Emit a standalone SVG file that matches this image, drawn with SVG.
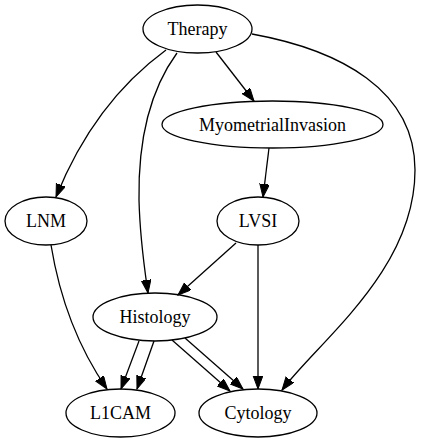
<svg xmlns="http://www.w3.org/2000/svg" width="421" height="443" viewBox="0 0 421 443">
<style>
ellipse{fill:none;stroke:#000;stroke-width:1.3}
text{font-family:"Liberation Serif","Times New Roman",serif;font-size:18px;text-anchor:middle;fill:#000}
.edge{fill:none;stroke:#000;stroke-width:1.3;marker-end:url(#ah)}
</style>
<defs>
<marker id="ah" markerUnits="userSpaceOnUse" markerWidth="14" markerHeight="11" refX="13" refY="4.8" orient="auto">
<path d="M0,0 L13,4.8 L0,9.6 z" fill="#000" stroke="#000" stroke-width="1"/>
</marker>
</defs>
<rect width="421" height="443" fill="#fff"/>
<g id="connectors">
<path class="edge" d="M216,52 L254,101"/>
<path class="edge" d="M166,50 C125,80 85,125 56,197"/>
<path class="edge" d="M177,53 C150,90 138,140 139,200 C140,240 144,265 148,293"/>
<path class="edge" d="M252,34 C340,50 415,90 415,170 C415,270 320,340 282,390"/>
<path class="edge" d="M269,148 L263,197"/>
<path class="edge" d="M236,243 L178,295"/>
<path class="edge" d="M258,245 L258,389"/>
<path class="edge" d="M51,245 C60,300 80,350 107,389"/>
<path class="edge" d="M139,341 L121,389"/>
<path class="edge" d="M154,341 L137,389"/>
<path class="edge" d="M172,340 L230,391"/>
<path class="edge" d="M185,338 L243,389"/>
</g>
<g id="Therapy"><ellipse cx="197.5" cy="29" rx="54.5" ry="24"/><text x="197.5" y="35">Therapy</text></g>
<g id="MyometrialInvasion"><ellipse cx="272.5" cy="124.5" rx="110.5" ry="23.5"/><text x="272.5" y="130.5">MyometrialInvasion</text></g>
<g id="LNM"><ellipse cx="46" cy="221" rx="41" ry="24"/><text x="46" y="227">LNM</text></g>
<g id="LVSI"><ellipse cx="258" cy="221" rx="41" ry="24"/><text x="258" y="227">LVSI</text></g>
<g id="Histology"><ellipse cx="155" cy="317" rx="62" ry="24"/><text x="155" y="323">Histology</text></g>
<g id="L1CAM"><ellipse cx="120.5" cy="413" rx="54.5" ry="24"/><text x="120.5" y="419">L1CAM</text></g>
<g id="Cytology"><ellipse cx="258" cy="413" rx="59" ry="24"/><text x="258" y="419">Cytology</text></g>
</svg>
